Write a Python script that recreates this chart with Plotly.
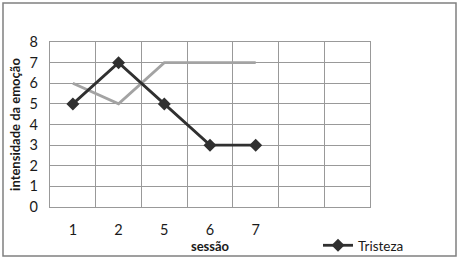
import plotly.graph_objects as go

categories = ["1", "2", "5", "6", "7", " ", "  "]
sessoes = ["1", "2", "5", "6", "7"]
tristeza = [5, 7, 5, 3, 3]
outra = [6, 5, 7, 7, 7]
y_ticks = [0, 1, 2, 3, 4, 5, 6, 7, 8]

W, H = 461, 260
L, R, T, B = 50, 91, 42, 53
pw, ph = W - L - R, H - T - B

fig = go.Figure()
fig.add_trace(go.Scatter(x=sessoes, y=outra, mode="lines",
                         line=dict(color="#a3a3a3", width=2.8), showlegend=False, hoverinfo="skip"))
fig.add_trace(go.Scatter(x=sessoes, y=tristeza, mode="lines+markers", name="Tristeza",
                         line=dict(color="#303030", width=2.8),
                         marker=dict(symbol="diamond", size=10, color="#303030")))
fig.add_trace(go.Scatter(x=categories[5:], y=[None, None], mode="lines", showlegend=False, hoverinfo="skip"))

def px_x(p):
    return (p - L) / pw

def px_y(p):
    return (H - B - p) / ph

fig.add_shape(type="rect", xref="paper", yref="paper",
              x0=px_x(3), x1=px_x(456), y0=px_y(256), y1=px_y(3),
              line=dict(color="#808080", width=1.5), layer="below")

fig.update_layout(
    width=W, height=H, margin=dict(l=L, r=R, t=T, b=B, autoexpand=False), autosize=False,
    paper_bgcolor="white", plot_bgcolor="white",
    font=dict(family="Lato, Open Sans, sans-serif", color="#1a1a1a", size=14.5),
    legend=dict(x=px_x(318), y=px_y(230), xanchor="left", yanchor="top",
                font=dict(size=13.5), bgcolor="rgba(0,0,0,0)"),
    xaxis=dict(type="category", categoryorder="array", categoryarray=categories,
               range=[-0.5, 6.5], tickson="boundaries", showgrid=True, automargin=False,
               gridcolor="#999999", gridwidth=1.3, showline=True, linecolor="#999999",
               linewidth=1.3, mirror=True, ticks="", ticklabelstandoff=9,
               title=dict(text="<b>sessão</b>", font=dict(size=13), standoff=5)),
    yaxis=dict(range=[0, 8], tickvals=y_ticks, showgrid=True, gridcolor="#999999",
               gridwidth=1.3, showline=True, linecolor="#999999", linewidth=1.3,
               mirror=True, ticks="", zeroline=False, ticklabelstandoff=8, automargin=False,
               title=dict(text="<b>intensidade da emoção</b>", font=dict(size=13), standoff=5)),
)

fig.write_html("out.html", config={"displayModeBar": False, "responsive": False},
               post_script="document.body.style.margin='0';document.body.style.padding='0';document.body.style.overflow='hidden';")
